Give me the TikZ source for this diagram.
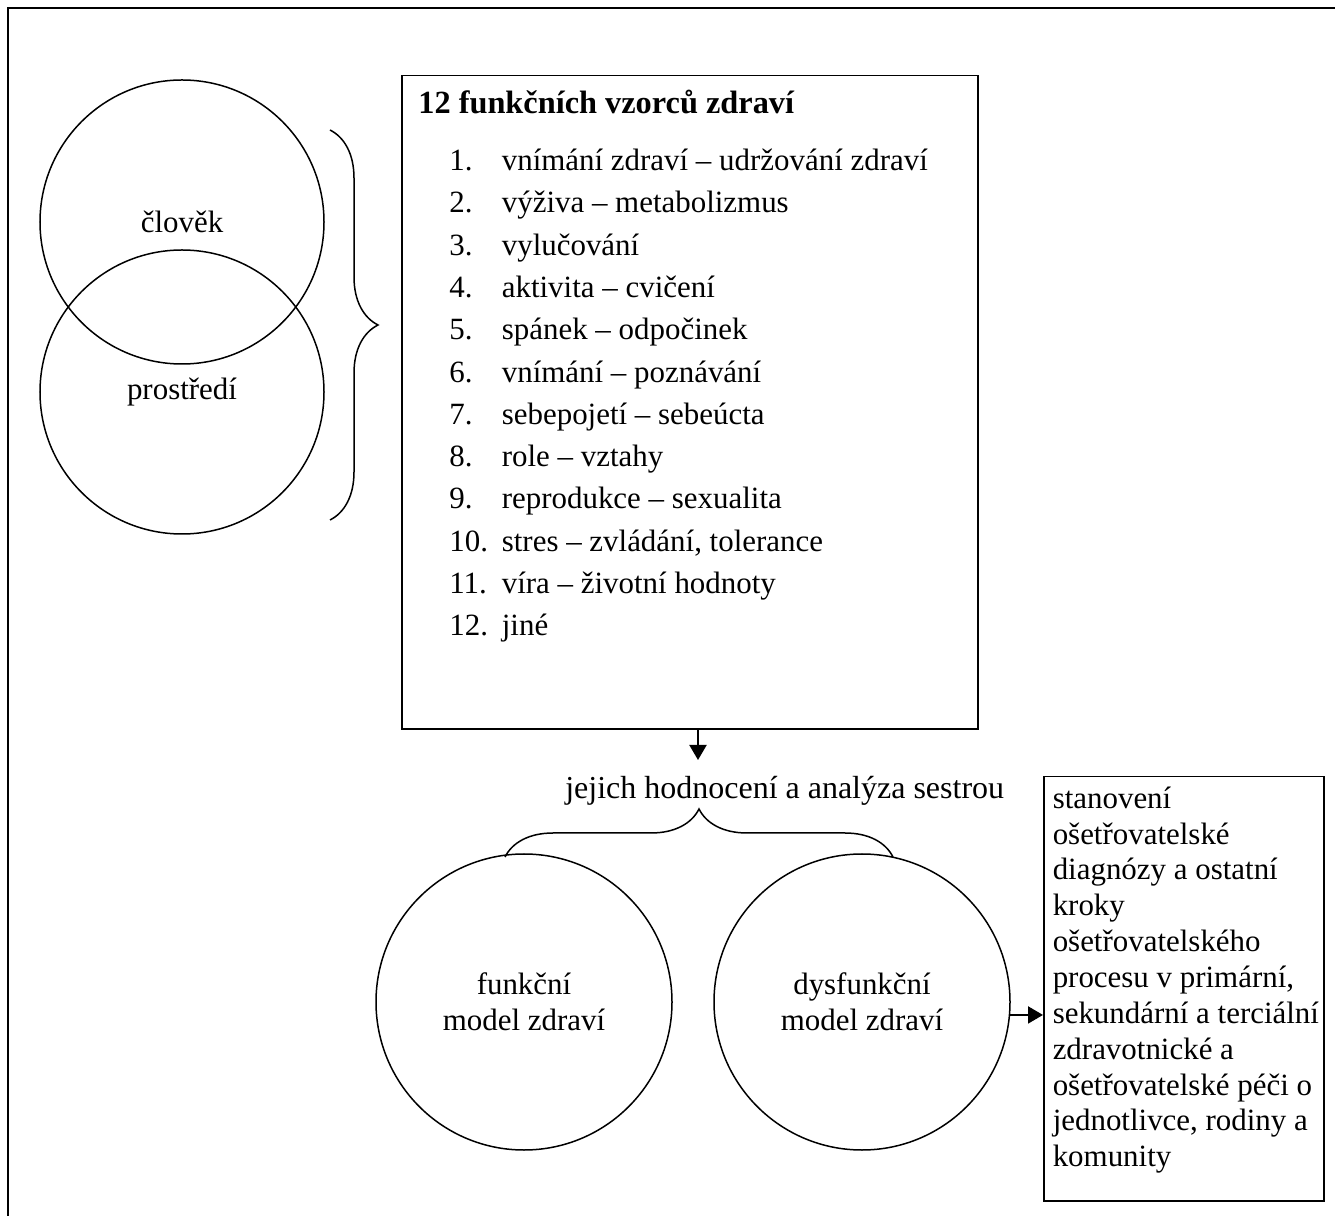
\documentclass[tikz,border=0pt]{standalone}
\usepackage{fontspec}
\setmainfont{Liberation Serif}
\usetikzlibrary{arrows.meta,positioning,decorations.pathreplacing,calc}

\begin{document}
\begin{tikzpicture}[x=0.2mm, y=-0.2mm,
  bodytext/.style={font=\fontsize{17.6}{20.4}\selectfont},
  listline/.style={bodytext, anchor=base west, inner sep=0pt},
  ring/.style={circle, draw, line width=0.3mm, minimum size=5.68cm, inner sep=0pt, bodytext, align=center},
  bigring/.style={ring, minimum size=5.92cm},
  flow/.style={line width=0.4mm, -{Triangle[length=3mm,width=3.4mm]}},
  curly/.style={decorate, decoration={brace, amplitude=0.96cm}, line width=0.3mm}]

\useasboundingbox (0,0) rectangle (1335,1216);
\clip (0,0) rectangle (1335,1216);

\draw[line width=0.5mm] (8,8) rectangle (1360,1240);

% clovek a prostredi
\node[ring] (human) at (182,222) {člověk};
\node[ring] (environment) at (182,392) {prostředí};
\draw[curly] (330,130) -- (330,520);

% 12 vzorcu
\node[draw, line width=0.3mm, anchor=north west, minimum width=11.52cm, minimum height=13.06cm] (patterns) at (401,75) {};

\node[listline, font=\fontsize{18.4}{21}\selectfont\bfseries] (title) at (418,114) {12 funkčních vzorců zdraví};

\node[listline] (item1) at (449,171) {\makebox[1.05cm][l]{1.}vnímání zdraví – udržování zdraví};
\node[listline] (item2) at (449,213) {\makebox[1.05cm][l]{2.}výživa – metabolizmus};
\node[listline] (item3) at (449,256) {\makebox[1.05cm][l]{3.}vylučování};
\node[listline] (item4) at (449,298) {\makebox[1.05cm][l]{4.}aktivita – cvičení};
\node[listline] (item5) at (449,340) {\makebox[1.05cm][l]{5.}spánek – odpočinek};
\node[listline] (item6) at (449,383) {\makebox[1.05cm][l]{6.}vnímání – poznávání};
\node[listline] (item7) at (449,425) {\makebox[1.05cm][l]{7.}sebepojetí – sebeúcta};
\node[listline] (item8) at (449,467) {\makebox[1.05cm][l]{8.}role – vztahy};
\node[listline] (item9) at (449,509) {\makebox[1.05cm][l]{9.}reprodukce – sexualita};
\node[listline] (item10) at (449,552) {\makebox[1.05cm][l]{10.}stres – zvládání, tolerance};
\node[listline] (item11) at (449,594) {\makebox[1.05cm][l]{11.}víra – životní hodnoty};
\node[listline] (item12) at (449,636) {\makebox[1.05cm][l]{12.}jiné};

% hodnoceni
\coordinate (evaltip) at (698,760);
\draw[flow] (patterns.south -| evaltip) -- (evaltip);
\node[listline, font=\fontsize{18.2}{21}\selectfont] (eval) at (565,799) {jejich hodnocení a analýza sestrou};

\node[bigring] (functional) at (524,1002) {funkční\\model zdraví};
\node[bigring] (dysfunctional) at (862,1002) {dysfunkční\\model zdraví};
\draw[curly] (505,857) -- (893,857);

% dalsi kroky
\node[draw, line width=0.3mm, anchor=north west, inner xsep=0pt, inner ysep=0.2cm,
  bodytext] (steps) at (1043,776)
  {\parbox[t][8.08cm][t]{5.6cm}{\raggedright\leftskip=0.18cm stanovení\\ošetřovatelské\\diagnózy a ostatní\\kroky\\ošetřovatelského\\procesu v primární,\\sekundární a terciální\\zdravotnické a\\ošetřovatelské péči o\\jednotlivce, rodiny a\\komunity}};

\draw[flow] (dysfunctional.-5) -- (dysfunctional.-5 -| steps.west);

\end{tikzpicture}
\end{document}
